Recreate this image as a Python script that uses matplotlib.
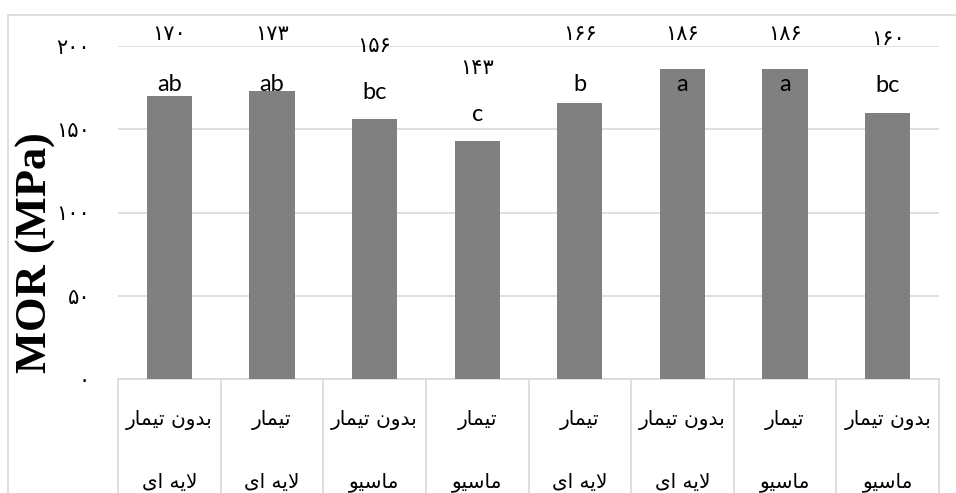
import numpy as np
import matplotlib
matplotlib.use("Agg")
import matplotlib.pyplot as plt
from matplotlib.patches import Rectangle
import matplotlib.transforms as mtransforms

# data
values = [170, 173, 156, 143, 166, 186, 186, 160]
letters = ["ab", "ab", "bc", "c", "b", "a", "a", "bc"]
# category labels (first / second line), logical Persian text
line1 = ["بدون تیمار", "تیمار", "بدون تیمار", "تیمار",
         "تیمار", "بدون تیمار", "تیمار", "بدون تیمار"]
line2 = ["لایه ای", "لایه ای", "ماسیو", "ماسیو",
         "لایه ای", "لایه ای", "ماسیو", "ماسیو"]
yticks = [0, 50, 100, 150, 200]

# matplotlib has no arabic shaping, so map the words to presentation forms
# (already in visual left-to-right order)
shaped = {
    "بدون تیمار": "\uFEAD\uFE8E\uFEE4\uFEF4\uFE97 \uFEE5\uFEED\uFEAA\uFE91",
    "تیمار": "\uFEAD\uFE8E\uFEE4\uFEF4\uFE97",
    "لایه ای": "\uFEEF\uFE8D \uFEEA\uFEF3\uFEFB",
    "ماسیو": "\uFEEE\uFEF4\uFEB3\uFE8E\uFEE3",
}
fa_digits = str.maketrans("0123456789", "۰۱۲۳۴۵۶۷۸۹")


def fa(n):
    return str(n).translate(fa_digits)


W, H = 956, 493
fig = plt.figure(figsize=(W / 100, H / 100), dpi=100)
ax = fig.add_axes([118 / W, (H - 379) / H, (939 - 118) / W, (379 - 46) / H])

x = np.arange(len(values))
ax.bar(x, values, width=0.44, color="#808080", zorder=3)
ax.set_xlim(-0.5, len(values) - 0.5)
ax.set_ylim(0, 200)

ax.set_yticks(yticks)
ax.set_yticklabels([fa(v) for v in yticks], family=["DejaVu Sans"], fontsize=15)
ax.tick_params(axis="y", length=0, pad=20)
ax.set_xticks([])
ax.grid(axis="y", color="#d9d9d9", linewidth=1.2, zorder=0)
for s in ["top", "right", "left"]:
    ax.spines[s].set_visible(False)
ax.spines["bottom"].set_color("#d9d9d9")
ax.spines["bottom"].set_linewidth(1.2)

# y label sits a bit lower than the axes centre
fig.text(36 / W, (H - 253) / H, "MOR (MPa)", rotation=90, ha="center",
         va="center", family="Liberation Serif", fontweight="bold", fontsize=32)

# value and letter labels
for i, v in enumerate(values):
    ax.text(i, min(v + 44, 207), fa(v), ha="center", va="center",
            family=["DejaVu Sans"], fontsize=15, clip_on=False)
    ax.text(i, min(v + 16, 177), letters[i], ha="center", va="center",
            family="Lato", fontsize=17, zorder=4)

# category cells under the axis
trans = mtransforms.blended_transform_factory(ax.transData, ax.transAxes)
for b in np.arange(len(values) + 1) - 0.5:
    ax.plot([b, b], [0, -0.4], color="#d9d9d9", linewidth=1.2,
            transform=trans, clip_on=False)
for i in range(len(values)):
    ax.text(i, -0.123, shaped[line1[i]], ha="center", va="center",
            family=["DejaVu Sans"], fontsize=14.5, transform=trans)
    ax.text(i, -0.31, shaped[line2[i]], ha="center", va="center",
            family=["DejaVu Sans"], fontsize=14.5, transform=trans)

# chart border
fig.patches.append(Rectangle((8 / W, -0.1), 1.2, (H - 15) / H + 0.1,
                             transform=fig.transFigure, fill=False,
                             edgecolor="#d9d9d9", linewidth=1.2))

fig.savefig("out.png", dpi=100)
